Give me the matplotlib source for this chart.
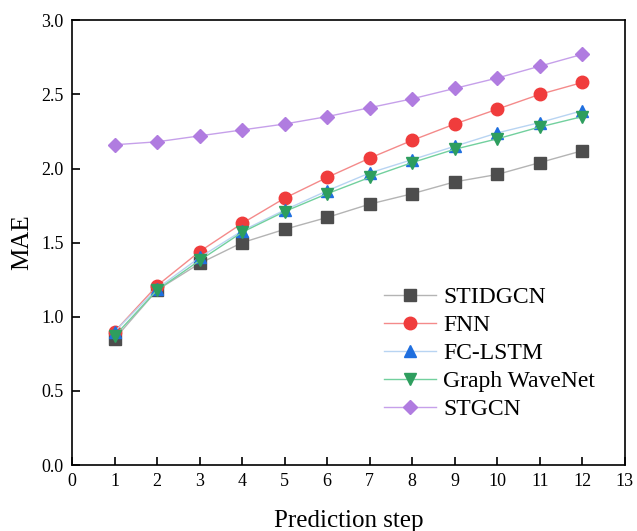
import matplotlib.pyplot as plt

# MAE per prediction step
steps = [1, 2, 3, 4, 5, 6, 7, 8, 9, 10, 11, 12]
stidgcn = [0.85, 1.18, 1.36, 1.50, 1.59, 1.67, 1.76, 1.83, 1.91, 1.96, 2.04, 2.12]
fnn = [0.90, 1.21, 1.44, 1.63, 1.80, 1.94, 2.07, 2.19, 2.30, 2.40, 2.50, 2.58]
fc_lstm = [0.90, 1.19, 1.40, 1.58, 1.72, 1.85, 1.97, 2.06, 2.15, 2.24, 2.31, 2.39]
gwn = [0.87, 1.18, 1.38, 1.57, 1.71, 1.83, 1.94, 2.04, 2.13, 2.20, 2.28, 2.35]
stgcn = [2.16, 2.18, 2.22, 2.26, 2.30, 2.35, 2.41, 2.47, 2.54, 2.61, 2.69, 2.77]

names = ['STIDGCN', 'FNN', 'FC-LSTM', 'Graph WaveNet', 'STGCN']
series = [stidgcn, fnn, fc_lstm, gwn, stgcn]
markers = ['s', 'o', '^', 'v', 'D']
marker_colors = ['#4d4d4d', '#f03c3c', '#1f6fdf', '#2e9e5e', '#b07ce0']
line_colors = ['#b4b4b4', '#f48a8a', '#b8d4f2', '#72d09e', '#c6a0ea']
marker_sizes = [8, 9, 8.5, 8.5, 7.5]

plt.rcParams['font.family'] = ['Liberation Serif', 'DejaVu Serif']

fig = plt.figure(figsize=(6.37, 5.31), dpi=100)
ax = fig.add_axes([0.113, 0.124, 0.868, 0.838])

for name, vals, m, mc, lc, ms in zip(names, series, markers, marker_colors, line_colors, marker_sizes):
    ax.plot(steps, vals, color=lc, linewidth=1.0, marker=m, markersize=ms,
            markerfacecolor=mc, markeredgecolor=mc, label=name)

ax.set_xlim(0, 13)
ax.set_ylim(0, 3.0)
ax.set_xticks(range(0, 14))
ax.set_yticks([0.0, 0.5, 1.0, 1.5, 2.0, 2.5, 3.0])
ax.set_yticklabels(['0.0', '0.5', '1.0', '1.5', '2.0', '2.5', '3.0'])
ax.tick_params(direction='in', length=6, width=1.2, labelsize=13, pad=6)
for sp in ax.spines.values():
    sp.set_linewidth(1.2)

ax.set_xlabel('Prediction step', fontsize=18, labelpad=14)
ax.set_ylabel('MAE', fontsize=18, labelpad=6)

ax.legend(loc='upper left', bbox_to_anchor=(0.548, 0.422), frameon=False,
          fontsize=17, handlelength=2.2, labelspacing=0.27, handletextpad=0.3,
          borderaxespad=0.0)

fig.savefig('out.png', dpi=100)
